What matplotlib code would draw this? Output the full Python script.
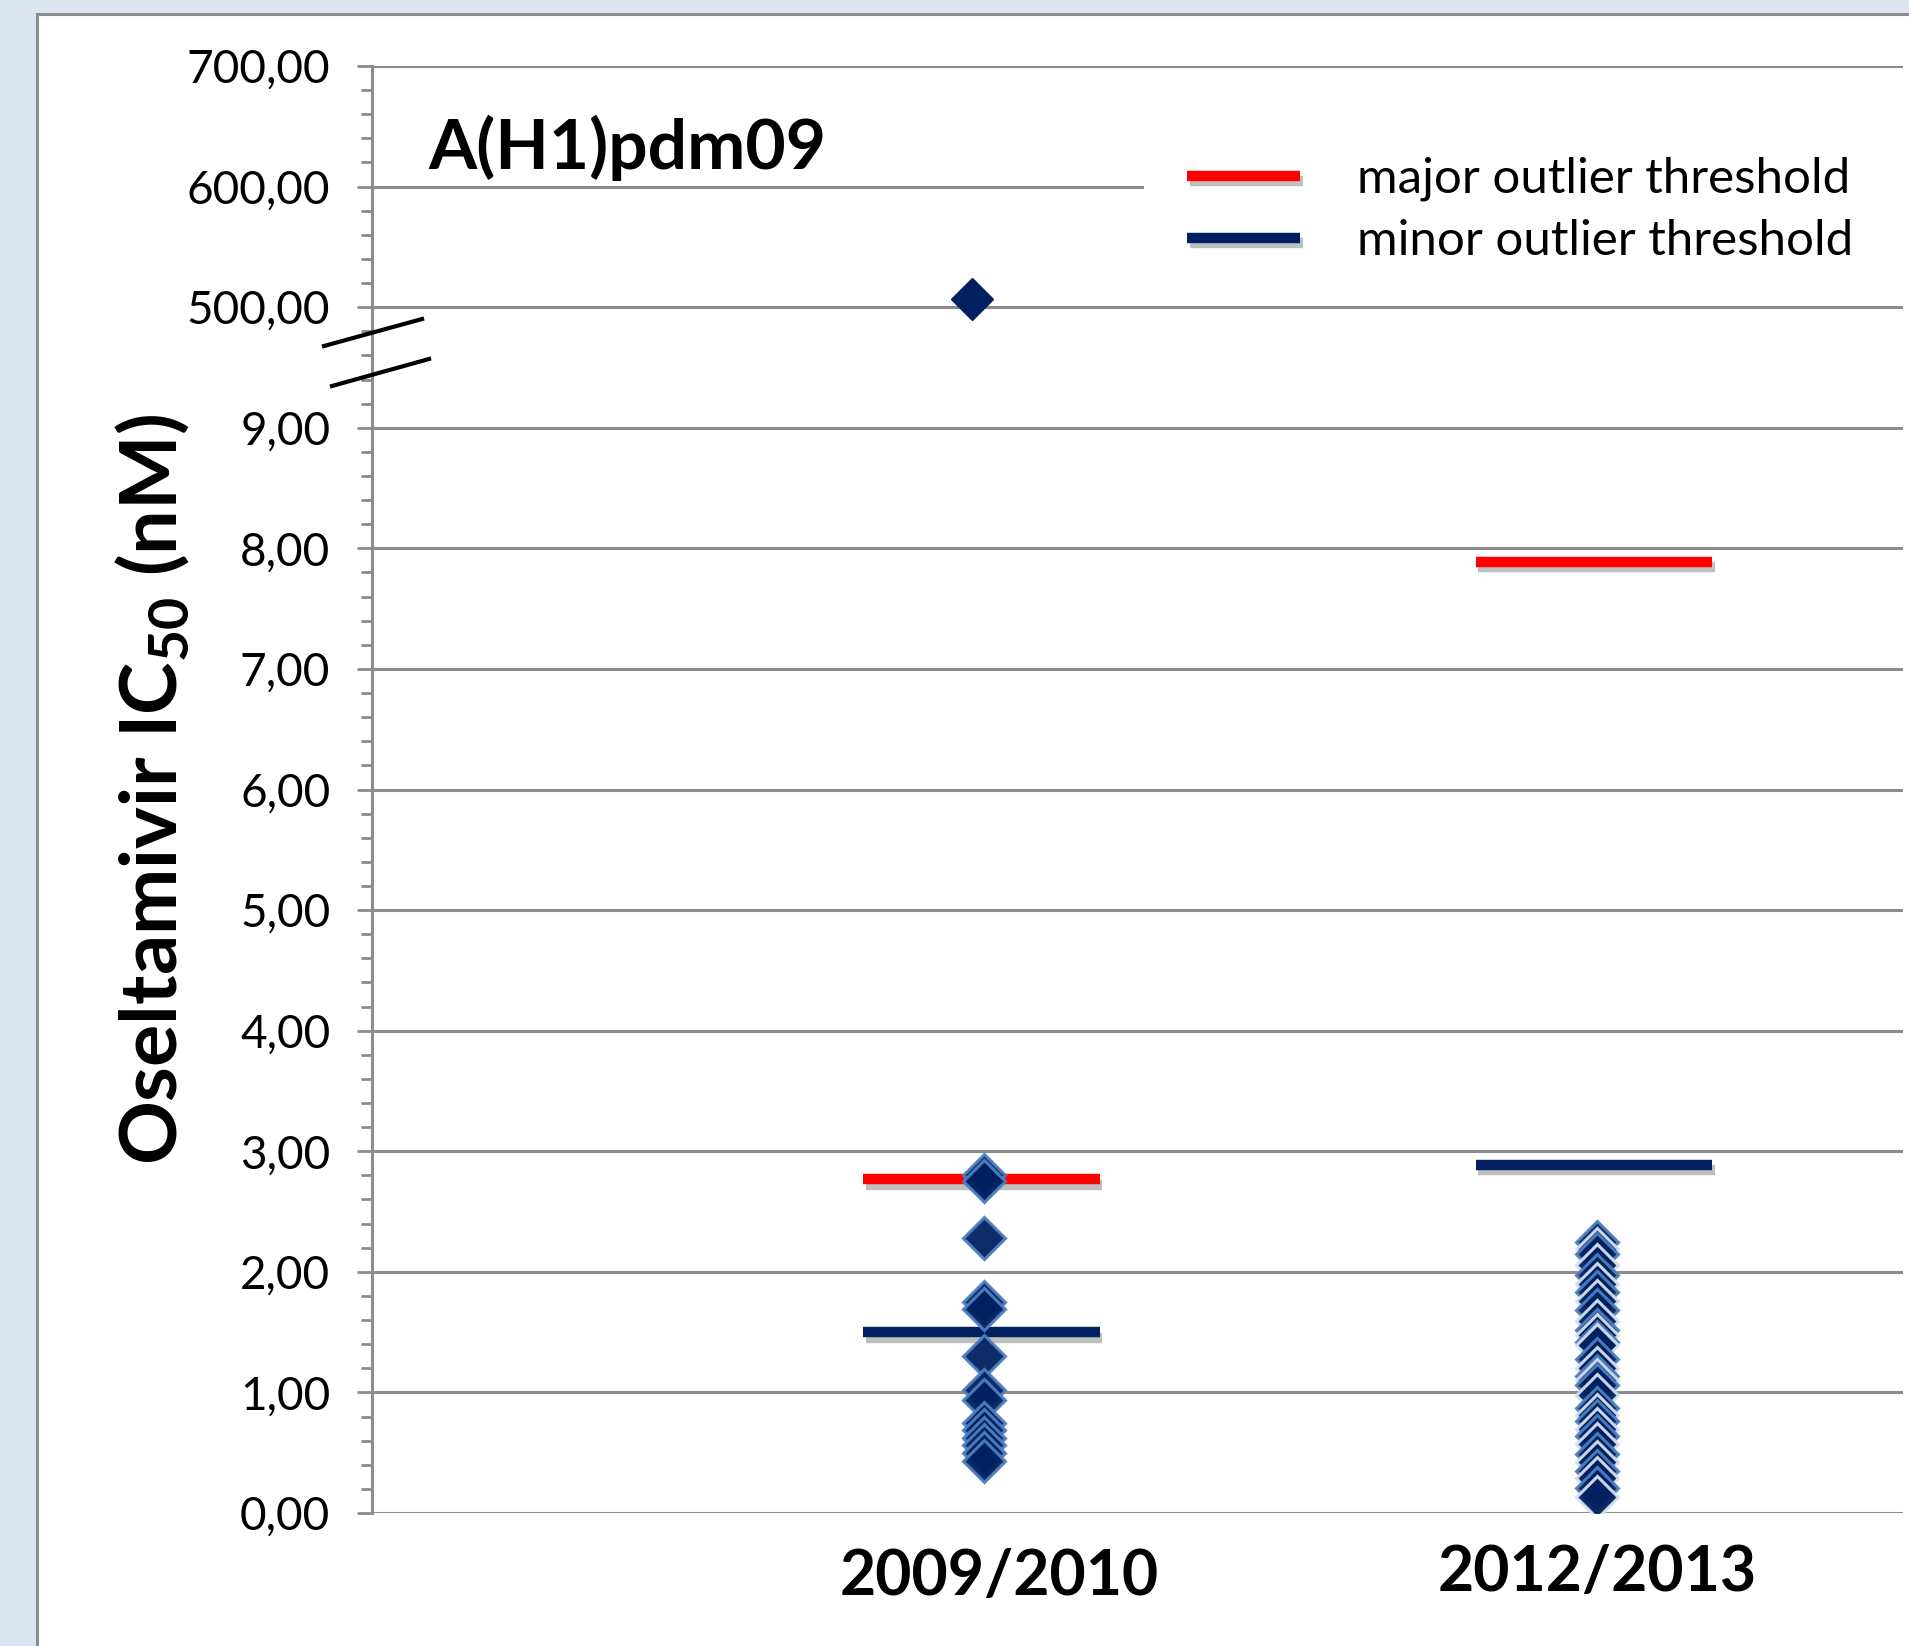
"""Oseltamivir IC50 per season, A(H1)pdm09, with outlier thresholds and a broken y axis."""
import matplotlib
matplotlib.use("Agg")
import matplotlib.pyplot as plt
import matplotlib.patheffects as pe
import numpy as np
from matplotlib.lines import Line2D
from matplotlib.patches import Rectangle
from matplotlib.transforms import ScaledTranslation

plt.rcParams["font.family"] = ["Lato", "DejaVu Sans"]
plt.rcParams["mathtext.fontset"] = "custom"
plt.rcParams["mathtext.rm"] = "Lato"
plt.rcParams["mathtext.bf"] = "Lato:bold"

SEASONS = ["2009/2010", "2012/2013"]
IC50_0910 = [2.80, 2.75, 2.28, 1.75, 1.69, 1.30, 1.02, 0.94, 0.75, 0.69,
             0.62, 0.56, 0.50, 0.43]
IC50_0910_HIGH = [507.0]
IC50_1213 = [2.25, 2.19, 2.15, 2.06, 1.97, 1.90, 1.83, 1.76, 1.68, 1.59,
             1.52, 1.48, 1.42, 1.39, 1.28, 1.20, 1.14, 1.10, 1.06, 0.98,
             0.87, 0.81, 0.76, 0.70, 0.64, 0.57, 0.49, 0.42, 0.35, 0.29,
             0.21, 0.13]
MAJOR_THR = [2.77, 7.89]
MINOR_THR = [1.50, 2.89]
YTICKS = [0, 1, 2, 3, 4, 5, 6, 7, 8, 9, 500, 600, 700]

# broken axis: 0..9 linear, 9..500 squeezed into one unit, 500..700 at 100 per unit
_XP = [-100.0, 9.0, 500.0, 1000.0]
_FP = [-100.0, 9.0, 10.0, 15.0]


def fwd(v):
    return np.interp(v, _XP, _FP)


def inv(v):
    return np.interp(v, _FP, _XP)


W, H = 1909, 1646
fig = plt.figure(figsize=(W / 100, H / 100), dpi=100, facecolor="#dce6f2")
fig.add_artist(Rectangle((37 / W, -0.01), 1.0, 1 - 14 / H + 0.01, transform=fig.transFigure,
                         facecolor="white", edgecolor="#8c8c8c", linewidth=2.2, zorder=-10))

ax = fig.add_axes([372 / W, 1 - 1513 / H, (1903 - 372) / W, (1513 - 66) / H])
ax.set_facecolor("none")
ax.set_yscale("function", functions=(fwd, inv))
ax.set_ylim(0, 700)
ax.set_xlim(0, 2.5)

grey = "#8c8c8c"
ax.set_yticks(YTICKS)
ax.set_yticklabels([f"{v:.2f}".replace(".", ",") for v in YTICKS], fontsize=33)
ax.set_yticks(inv(np.arange(0, 12.01, 0.2)), minor=True)
ax.tick_params(axis="y", which="major", direction="out", length=11, width=2, color=grey, pad=19)
ax.tick_params(axis="y", which="minor", direction="out", length=8, width=2, color=grey)
ax.grid(axis="y", which="major", color=grey, linewidth=2.2)
ax.set_axisbelow(True)
for s in ["top", "right", "bottom"]:
    ax.spines[s].set_visible(False)
ax.spines["left"].set_color(grey)
ax.spines["left"].set_linewidth(2.2)

xpos = [1, 2]
ax.set_xticks(xpos)
ax.set_xticklabels(SEASONS, fontsize=45, fontweight="bold")
ax.tick_params(axis="x", length=0, pad=22)
lab0 = ax.get_xticklabels()[0]
lab0.set_transform(lab0.get_transform() + ScaledTranslation(0.15, -0.04, fig.dpi_scale_trans))

ax.set_ylabel(r"Oseltamivir IC$\mathbf{_{50}}$ (nM)", fontsize=57, fontweight="bold")
ax.yaxis.set_label_coords(-0.118, 0.50)

# thresholds
shadow = [pe.SimpleLineShadow(offset=(2, -4), shadow_color="k", alpha=0.25), pe.Normal()]
half = 0.193
for i, x in enumerate(xpos):
    ax.plot([x - half - 0.005, x + half - 0.005], [MAJOR_THR[i]] * 2, color="#ff0000", lw=7.5,
            solid_capstyle="butt", path_effects=shadow, zorder=3,
            label="major outlier threshold" if i == 0 else None)
    ax.plot([x - half - 0.005, x + half - 0.005], [MINOR_THR[i]] * 2, color="#002060", lw=7.5,
            solid_capstyle="butt", path_effects=shadow, zorder=3,
            label="minor outlier threshold" if i == 0 else None)

# points
navy = "#002060"
ms = 21
ax.plot(np.full(len(IC50_0910), xpos[0]), IC50_0910, ls="none", marker="D", ms=ms,
        mfc=navy, mec="#4f7fbf", mew=2.2, alpha=0.95, zorder=4)
ax.plot(np.full(len(IC50_0910_HIGH), xpos[0] - 0.02), IC50_0910_HIGH, ls="none", marker="D",
        ms=ms, mfc=navy, mec=navy, mew=1, zorder=4)
edge_cycle = ["#4f7fbf", "#d6e1f0"]
for j, v in enumerate(IC50_1213):
    ax.plot([xpos[1]], [v], ls="none", marker="D", ms=ms, mfc=navy,
            mec=edge_cycle[j % 2], mew=2.2, alpha=0.95, zorder=4)

ax.text(428 / W, 1 - 148 / H, "A(H1)pdm09", transform=fig.transFigure, fontsize=50,
        fontweight="bold", va="center", ha="left")

# white block behind the legend hides the 600 gridline there
ax.add_patch(Rectangle((1144 / W, 1 - 280 / H), 1.0, 160 / H, transform=fig.transFigure,
                       facecolor="white", edgecolor="none", zorder=2, clip_on=False))
leg = ax.legend(loc="upper left", bbox_to_anchor=(1172 / W, 1 - 142 / H),
                bbox_transform=fig.transFigure, fontsize=35.5, frameon=False,
                handlelength=2.3, handletextpad=1.15, labelspacing=0.36, borderpad=0.3,
                borderaxespad=0)
leg.set_zorder(5)

# break marks across the axis
for (x0, y0, x1, y1) in [(324, 346, 422, 319), (332, 386, 429, 359)]:
    fig.add_artist(Line2D([x0 / W, x1 / W], [1 - y0 / H, 1 - y1 / H], transform=fig.transFigure,
                          color="black", lw=3))

fig.savefig("out.png", dpi=100, facecolor=fig.get_facecolor())
